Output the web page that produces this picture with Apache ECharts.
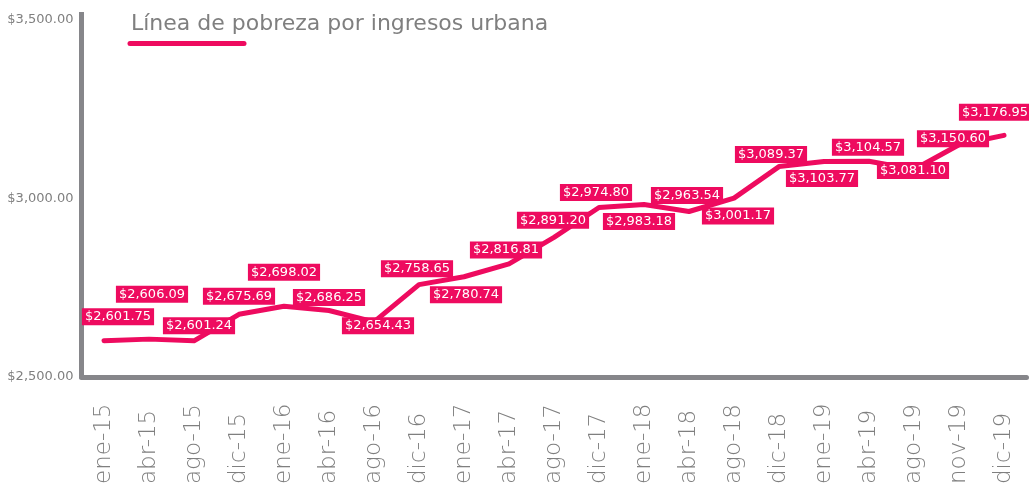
<!DOCTYPE html>
<html>
<head>
<meta charset="utf-8">
<script src="https://cdn.jsdelivr.net/npm/echarts@6/dist/echarts.min.js"></script>
<style>
  html, body { margin: 0; padding: 0; background: #fff; }
  #lineaUrbana { width: 1029px; height: 487px; }
</style>
</head>
<body>
<div id="lineaUrbana"></div>
<script>
// periodos y valores de la linea de pobreza por ingresos urbana
const periodos = ['ene-15', 'abr-15', 'ago-15', 'dic-15', 'ene-16', 'abr-16', 'ago-16', 'dic-16',
  'ene-17', 'abr-17', 'ago-17', 'dic-17', 'ene-18', 'abr-18', 'ago-18', 'dic-18',
  'ene-19', 'abr-19', 'ago-19', 'nov-19', 'dic-19'];
const lineaUrbana = [2601.75, 2606.09, 2601.24, 2675.69, 2698.02, 2686.25, 2654.43, 2758.65,
  2780.74, 2816.81, 2891.20, 2974.80, 2983.18, 2963.54, 3001.17, 3089.37,
  3103.77, 3104.57, 3081.10, 3150.60, 3176.95];
const yTicks = [2500, 3000, 3500];

const rosa = '#ee0b5f';
const gris = '#86868a';

// desplazamiento de cada etiqueta respecto a su punto (como en el original)
const labelShift = [[14, -24], [3, -45], [5, -15], [0, -18], [0, -34], [0, -13], [4, 4], [-2, -16],
  [2, 18], [-3, -14], [-1, -17], [-3, -15], [-5, 17], [-2, -16], [4, 18], [-8, -12],
  [-2, 17], [-1, -14], [-1, 1], [-6, -6], [-9, -23]];

const fmt = v => '$' + v.toLocaleString('en-US', { minimumFractionDigits: 2, maximumFractionDigits: 2 });

const myChart = echarts.init(document.getElementById('lineaUrbana'));
myChart.setOption({
  animation: false,
  title: {
    text: 'Línea de pobreza por ingresos urbana',
    left: 126,
    top: 8,
    textStyle: { fontFamily: 'DejaVu Sans', fontWeight: 'normal', fontSize: 22, color: '#7f7f7f' }
  },
  graphic: [{
    type: 'line',
    shape: { x1: 130, y1: 43.5, x2: 244, y2: 43.5 },
    style: { stroke: rosa, lineWidth: 5, lineCap: 'round' }
  }, {
    // el eje vertical del original sobresale un poco por arriba
    type: 'line',
    shape: { x1: 81.5, y1: 12, x2: 81.5, y2: 21 },
    style: { stroke: gris, lineWidth: 5 }
  }],
  grid: { left: 81.5, right: 2.5, top: 20, bottom: 109 },
  xAxis: {
    type: 'category',
    data: periodos,
    boundaryGap: true,
    axisLine: { lineStyle: { color: gris, width: 5 } },
    axisTick: { show: false },
    axisLabel: {
      rotate: 90,
      align: 'left',
      margin: 107,
      interval: 0,
      fontFamily: 'DejaVu Sans',
      fontWeight: 300,
      fontSize: 23,
      color: '#7f7f7f'
    }
  },
  yAxis: {
    type: 'value',
    min: yTicks[0],
    max: yTicks[yTicks.length - 1],
    interval: yTicks[1] - yTicks[0],
    splitLine: { show: false },
    axisLine: { show: true, lineStyle: { color: gris, width: 5 } },
    axisTick: { show: false },
    axisLabel: {
      margin: 8,
      fontFamily: 'DejaVu Sans',
      fontSize: 13,
      color: '#7f7f7f',
      formatter: fmt
    }
  },
  series: [{
    name: 'Línea de pobreza por ingresos urbana',
    type: 'line',
    data: lineaUrbana,
    symbol: 'circle',
    symbolSize: 1,
    showSymbol: true,
    itemStyle: { color: rosa },
    lineStyle: { color: rosa, width: 5, join: 'round', cap: 'round' },
    label: {
      show: true,
      position: 'inside',
      formatter: p => fmt(p.value),
      color: '#fff',
      backgroundColor: rosa,
      padding: [2, 3, 1, 3],
      lineHeight: 14,
      fontFamily: 'DejaVu Sans',
      fontSize: 13
    },
    labelLayout: p => ({
      dx: labelShift[p.dataIndex][0],
      dy: labelShift[p.dataIndex][1],
      hideOverlap: false
    })
  }]
});
</script>
</body>
</html>
